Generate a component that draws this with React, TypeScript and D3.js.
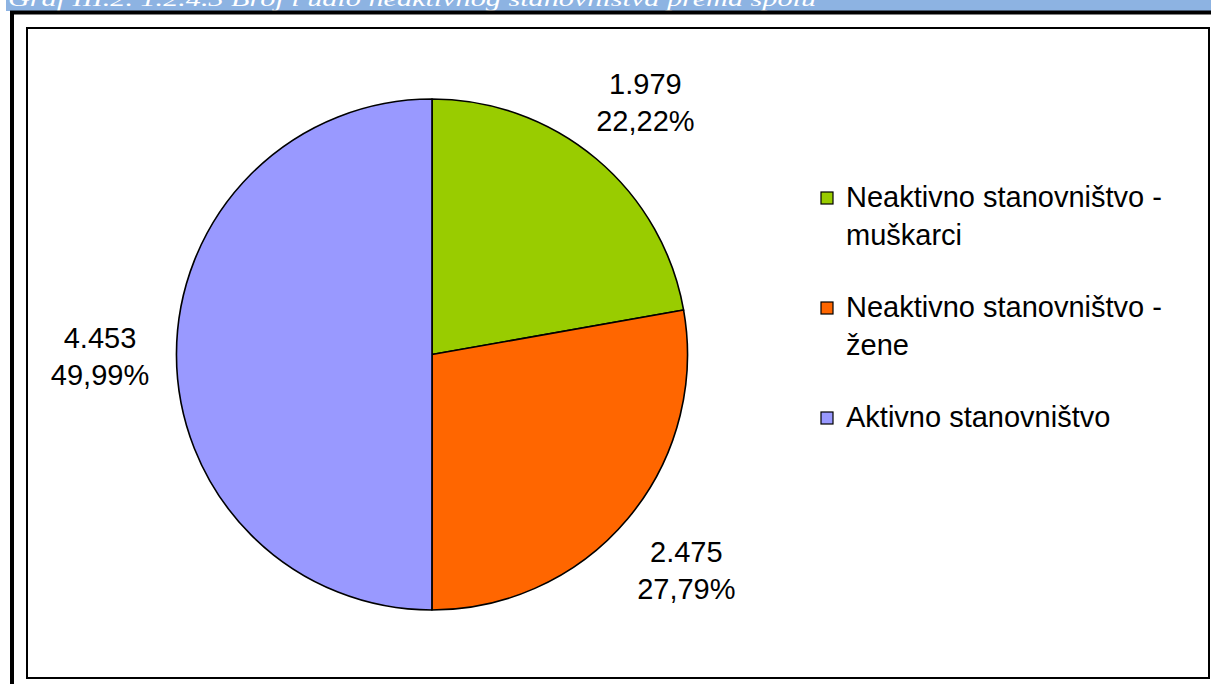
import React, { useEffect, useRef } from 'react';
import * as d3 from 'd3';

// data
const categories = ['Neaktivno stanovništvo - muškarci', 'Neaktivno stanovništvo - žene', 'Aktivno stanovništvo'];
const legendLines = [['Neaktivno stanovništvo -', 'muškarci'], ['Neaktivno stanovništvo -', 'žene'], ['Aktivno stanovništvo']];
const values = [1979, 2475, 4453];
const valueLabels = ['1.979', '2.475', '4.453'];
const percentLabels = ['22,22%', '27,79%', '49,99%'];
const colors = ['#99CC00', '#FF6600', '#9999FF'];

const titleText = 'Graf III.2. 1.2.4.3 Broj i udio neaktivnog stanovništva prema spolu';

const W = 1211;
const H = 684;

const App: React.FC = () => {
  const svgRef = useRef<SVGSVGElement>(null);

  useEffect(() => {
    if (!svgRef.current) return;
    const svg = d3.select(svgRef.current);
    svg.selectAll('*').remove();

    const font = '"Liberation Sans", Arial, sans-serif';
    const fontSize = 29;

    svg.append('rect').attr('width', W).attr('height', H).attr('fill', '#fff');

    // caption bar, cut off at the top of the page
    svg.append('rect')
      .attr('x', 6).attr('y', 0).attr('width', W - 6).attr('height', 11)
      .attr('fill', '#8DB3E2');
    svg.append('text')
      .attr('x', 8).attr('y', 6)
      .attr('fill', '#fff')
      .attr('font-family', '"Liberation Serif", "DejaVu Serif", serif')
      .attr('font-style', 'italic')
      .attr('font-size', 22)
      .attr('textLength', 808)
      .attr('lengthAdjust', 'spacingAndGlyphs')
      .text(titleText);

    // frames
    svg.append('rect')
      .attr('x', 12).attr('y', 12.5).attr('width', W + 20).attr('height', H + 20)
      .attr('fill', 'none').attr('stroke', '#000').attr('stroke-width', 4);
    svg.append('rect')
      .attr('x', 27).attr('y', 28).attr('width', 1182).attr('height', 650)
      .attr('fill', '#fff').attr('stroke', '#000').attr('stroke-width', 2);

    // pie
    const cx = 432;
    const cy = 354.5;
    const r = 255.5;

    const pie = d3.pie<number>().sort(null).value(d => d);
    const arcs = pie(values);
    const arc = d3.arc<d3.PieArcDatum<number>>().innerRadius(0).outerRadius(r);
    const labelArc = d3.arc<d3.PieArcDatum<number>>().innerRadius(332).outerRadius(332);

    const g = svg.append('g').attr('transform', `translate(${cx},${cy})`);
    g.selectAll('path')
      .data(arcs)
      .enter()
      .append('path')
      .attr('d', d => arc(d) as string)
      .attr('fill', (_, i) => colors[i])
      .attr('stroke', '#000')
      .attr('stroke-width', 1.6)
      .attr('stroke-linejoin', 'round');

    arcs.forEach((d, i) => {
      const [lx, ly] = labelArc.centroid(d);
      const t = g.append('text')
        .attr('x', lx).attr('y', ly)
        .attr('text-anchor', 'middle')
        .attr('font-family', font)
        .attr('font-size', fontSize)
        .attr('fill', '#000');
      t.append('tspan').attr('x', lx).attr('dy', -6).text(valueLabels[i]);
      t.append('tspan').attr('x', lx).attr('dy', 37).text(percentLabels[i]);
    });

    // legend
    const lx = 821;
    const baselines = [207, 317, 427];
    categories.forEach((c, i) => {
      const by = baselines[i];
      svg.append('rect')
        .attr('x', lx).attr('y', by - 15).attr('width', 12).attr('height', 12)
        .attr('fill', colors[i]).attr('stroke', '#000').attr('stroke-width', 1.2);
      const t = svg.append('text')
        .attr('x', lx + 25).attr('y', by)
        .attr('font-family', font)
        .attr('font-size', fontSize)
        .attr('fill', '#000');
      t.append('title').text(c);
      legendLines[i].forEach((line, j) => {
        t.append('tspan').attr('x', lx + 25).attr('y', by + j * 38).text(line);
      });
    });
  }, []);

  return (
    <svg
      ref={svgRef}
      width={W}
      height={H}
      viewBox={`0 0 ${W} ${H}`}
      style={{ position: 'absolute', left: 0, top: 0, display: 'block' }}
    />
  );
};

export default App;
